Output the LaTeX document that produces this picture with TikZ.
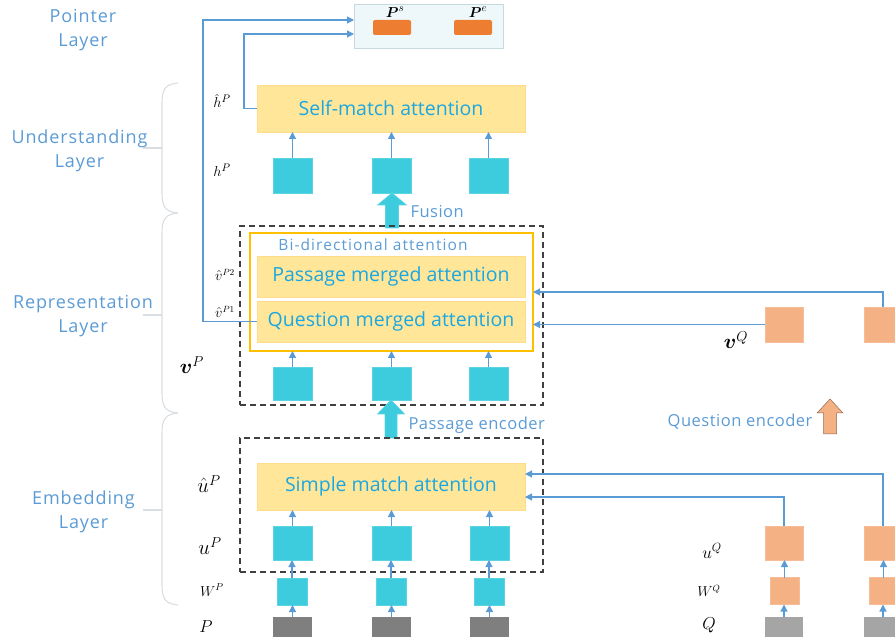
\documentclass[tikz,border=0pt]{standalone}
\usepackage{amsmath}
\usepackage[no-math]{fontspec}
\setmainfont{Open Sans}
\newfontfamily\lsLayer{Open Sans}[LetterSpace=5]
\newfontfamily\lsSmall{Open Sans}[LetterSpace=3]
\newfontfamily\lsBi{Open Sans}[LetterSpace=7]
\usetikzlibrary{arrows.meta,calc}
\definecolor{lblue}{HTML}{5B9BD5}
\definecolor{txtblue}{HTML}{1AA7E2}
\definecolor{cyanbox}{HTML}{3DCCDD}
\definecolor{orangebox}{HTML}{F4B183}
\definecolor{ptrorange}{HTML}{ED7D31}
\definecolor{yfill}{HTML}{FFE699}
\definecolor{ylborder}{HTML}{FFC000}
\definecolor{ptrfill}{HTML}{EEF8FB}
\definecolor{ptrborder}{HTML}{C8D8DF}
\definecolor{pgray}{HTML}{7F7F7F}
\definecolor{qgray}{HTML}{A5A5A5}
\definecolor{bracegray}{HTML}{D9DEE3}
\definecolor{dashgray}{HTML}{404040}
\begin{document}
\begin{tikzpicture}[x=1pt,y=-1pt,
  base/.style={inner sep=0pt,outer sep=0pt},
  ptrbox/.style={base,fill=ptrfill,draw=ptrborder,line width=0.8pt},
  ptr/.style={base,fill=ptrorange,rounded corners=2pt,minimum width=38,minimum height=15},
  attn/.style={base,fill=yfill,draw=yfill!90!orange,line width=0.6pt,minimum width=268,
    text=txtblue,font=\fontsize{19.5}{22}\selectfont},
  cy/.style={base,fill=cyanbox,draw=cyanbox!85!white,line width=0.6pt},
  cybig/.style={cy,minimum width=39,minimum height=35},
  cysmall/.style={cy,minimum width=30,minimum height=27},
  og/.style={base,fill=orangebox,draw=orangebox!85!white,line width=0.6pt},
  ogbig/.style={og,minimum width=38,minimum height=35},
  ogsmall/.style={og,minimum width=29,minimum height=27},
  pbox/.style={base,fill=pgray,minimum width=39,minimum height=20},
  qbox/.style={base,fill=qgray,minimum width=38,minimum height=20},
  dashbox/.style={base,draw=dashgray,dashed,dash pattern=on 6pt off 4pt,line width=1.1pt},
  ybox/.style={base,draw=ylborder,line width=1.2pt},
  layer/.style={text=lblue,align=center,font=\lsLayer\fontsize{18}{24}\selectfont},
  small/.style={text=lblue,font=\lsSmall\fontsize{16.5}{19}\selectfont},
  bilab/.style={text=lblue,font=\lsBi\fontsize{15.5}{18}\selectfont},
  mlab/.style={inner sep=1pt,font=\fontsize{15}{18}\selectfont},
  conn/.style={draw=lblue,line width=1.2pt,-{Triangle[length=7pt,width=7pt]}},
  bracel/.style={draw=bracegray,line width=1.1pt},
  blockc/.style={fill=cyanbox,draw=cyanbox!85!white,line width=0.6pt},
  blocko/.style={fill=orangebox,draw=orangebox!60!black,line width=0.5pt}
]
\useasboundingbox (0,0) rectangle (895,644);

% ---------- layer labels and braces ----------
\node[layer] (lpt) at (83,30) {Pointer\\Layer};
\node[layer] (lun) at (79.5,151) {Understanding\\Layer};
\node[layer] (lre) at (83,316) {Representation\\Layer};
\node[layer] (lem) at (83.5,512) {Embedding\\Layer};

\draw[bracel] (178,83) .. controls (165,84) and (162,90) .. (162,103) -- (162,193)
  .. controls (162,206) and (165,212) .. (178,213);
\draw[bracel] (178,213) .. controls (165,214) and (162,220) .. (162,233) -- (162,393)
  .. controls (162,406) and (165,412) .. (178,413);
\draw[bracel] (178,413) .. controls (165,414) and (162,420) .. (162,433) -- (162,585)
  .. controls (162,598) and (165,604) .. (178,605);
\draw[bracel] (143,148) -- (162,148);
\draw[bracel] (143,315) -- (162,315);
\draw[bracel] (143,510) -- (162,510);

% ---------- pointer layer ----------
\node[ptrbox,minimum width=149,minimum height=44] (pb) at (428.5,26) {};
\node[ptr] (ps) at (392,27.5) {};
\node[ptr] (pe) at (473,27.5) {};
\node[mlab] (psl) at (395,12) {$\boldsymbol{P}^{s}$};
\node[mlab] (pel) at (478,12) {$\boldsymbol{P}^{e}$};

% ---------- understanding layer ----------
\node[attn,minimum height=47] (sm) at (391,108.5) {Self-match attention};
\node[cybig] (h1) at (292.5,175.5) {};
\node[cybig] (h2) at (391.5,175.5) {};
\node[cybig] (h3) at (488.5,175.5) {};
\node[mlab] (lhh) at (222,101) {$\hat{h}^{P}$};
\node[mlab] (lh) at (222,170) {$h^{P}$};
\foreach \i in {1,2,3} \draw[conn] (h\i.north) -- (h\i.north |- sm.south);

% fusion arrow
\begin{scope}[shift={(392,228)}]
\path[blockc] (-6.5,0) -- (-6.5,-23) -- (-14.5,-23) -- (0,-35) -- (14.5,-23) -- (6.5,-23) -- (6.5,0) -- cycle;
\end{scope}
\node[small,anchor=west] (fus) at (407,212) {Fusion};

% ---------- representation layer ----------
\node[dashbox,minimum width=303,minimum height=179] (rep) at (391.5,315.5) {};
\node[ybox,minimum width=283,minimum height=118] (bi) at (391.5,292) {};
\node[bilab] (bil) at (373,245) {Bi-directional attention};
\node[attn,minimum height=41] (pm) at (391,276.5) {Passage merged attention};
\node[attn,minimum height=41] (qm) at (391,321.5) {Question merged attention};
\node[cybig,minimum height=33] (r1) at (292.5,383.5) {};
\node[cybig,minimum height=33] (r2) at (391.5,383.5) {};
\node[cybig,minimum height=33] (r3) at (488.5,383.5) {};
\foreach \i in {1,2,3} \draw[conn] (r\i.north) -- (r\i.north |- bi.south);
\node[mlab,font=\fontsize{13.5}{16}\selectfont] (lv2) at (225,275) {$\hat{v}^{P2}$};
\node[mlab,font=\fontsize{13.5}{16}\selectfont] (lv1) at (225,312) {$\hat{v}^{P1}$};
\node[mlab,font=\fontsize{22}{26}\selectfont] (lvp) at (192,365) {$\boldsymbol{v}^{P}$};

% passage encoder arrow
\begin{scope}[shift={(391,438)}]
\path[blockc] (-6,0) -- (-6,-24) -- (-13.5,-24) -- (0,-38) -- (13.5,-24) -- (6,-24) -- (6,0) -- cycle;
\end{scope}
\node[small,anchor=west] (pen) at (405,425) {Passage encoder};

% ---------- embedding layer ----------
\node[dashbox,minimum width=303,minimum height=134] (emb) at (391.5,505) {};
\node[attn,minimum height=47] (sma) at (391,486.5) {Simple match attention};
\node[cybig,minimum height=34] (u1) at (292.5,543) {};
\node[cybig,minimum height=34] (u2) at (391.5,543) {};
\node[cybig,minimum height=34] (u3) at (489.5,543) {};
\node[cysmall] (w1) at (292,591.5) {};
\node[cysmall] (w2) at (391,591.5) {};
\node[cysmall] (w3) at (489,591.5) {};
\node[pbox] (p1) at (292.5,627) {};
\node[pbox] (p2) at (391.5,627) {};
\node[pbox] (p3) at (489.5,627) {};
\foreach \i in {1,2,3} {
  \draw[conn] (u\i.north) -- (u\i.north |- sma.south);
  \draw[conn] (w\i.north) -- (w\i.north |- u\i.south);
  \draw[conn] (p\i.north) -- (p\i.north |- w\i.south);
}
\node[mlab,font=\fontsize{20}{23}\selectfont] (luh) at (209,484) {$\hat{u}^{P}$};
\node[mlab,font=\fontsize{20}{23}\selectfont] (lu) at (210,546) {$u^{P}$};
\node[mlab,font=\fontsize{14.5}{17}\selectfont] (lw) at (212,590) {$W^{P}$};
\node[mlab,font=\fontsize{17}{20}\selectfont] (lp) at (206,627) {$P$};

% ---------- question side ----------
\node[ogbig] (vq1) at (784,324.5) {};
\node[ogbig] (vq2) at (883,324.5) {};
\node[mlab,font=\fontsize{22}{26}\selectfont] (lvq) at (736,340) {$\boldsymbol{v}^{Q}$};
\node[ogbig,minimum height=34] (uq1) at (784,543) {};
\node[ogbig,minimum height=34] (uq2) at (883,543) {};
\node[ogsmall] (wq1) at (784.5,591) {};
\node[ogsmall] (wq2) at (883.5,591) {};
\node[qbox] (q1) at (784,627) {};
\node[qbox] (q2) at (883,627) {};
\foreach \i in {1,2} {
  \draw[conn] (wq\i.north) -- (wq\i.north |- uq\i.south);
  \draw[conn] (q\i.north) -- (q\i.north |- wq\i.south);
}
\node[mlab,font=\fontsize{18}{21}\selectfont] (luq) at (712,551) {$u^{Q}$};
\node[mlab,font=\fontsize{13.5}{16}\selectfont] (lwq) at (709,591) {$W^{Q}$};
\node[mlab,font=\fontsize{16}{19}\selectfont] (lq) at (709,625) {$Q$};

% question encoder arrow
\begin{scope}[shift={(830,434)}]
\path[blocko] (-6.5,0) -- (-6.5,-21) -- (-13,-21) -- (0,-35) -- (13,-21) -- (6.5,-21) -- (6.5,0) -- cycle;
\end{scope}
\node[small,anchor=east] (qen) at (816,422) {Question encoder};

% ---------- connectors ----------
\draw[conn] (vq1.west) -- (vq1.west -| bi.east);
\draw[conn] (vq2.north) |- (bi.east);
\draw[conn] (uq1.north) |- ($(sma.east)+(0,10.5)$);
\draw[conn] (uq2.north) |- ($(sma.east)+(0,-12.5)$);
\draw[conn] (qm.west) -- ++(-54,0) |- ($(pb.west)+(0,-6)$);
\draw[conn] (sm.west) -- ++(-13,0) |- ($(pb.west)+(0,8)$);
\end{tikzpicture}
\end{document}
